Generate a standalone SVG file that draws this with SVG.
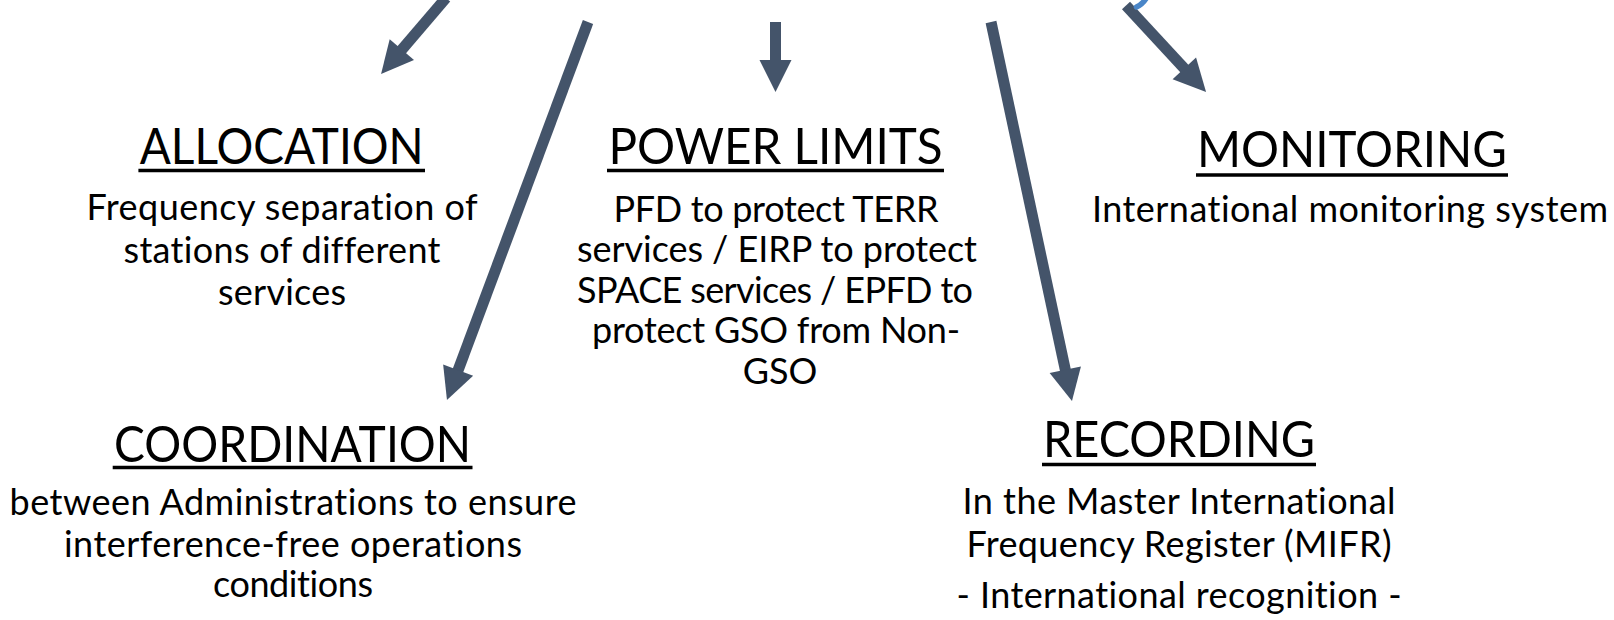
<svg xmlns="http://www.w3.org/2000/svg" width="1614" height="620" viewBox="0 0 1614 620">
  <style>
    text { font-variant-ligatures: none; font-feature-settings: "liga" 0, "dlig" 0; }
    .title { font-family: Lato, "Open Sans", sans-serif; font-size: 50px; fill: #000; text-anchor: middle; }
    .body { font-family: Lato, "Open Sans", sans-serif; font-size: 36px; fill: #000; text-anchor: middle; }
    .ul { stroke: #000; stroke-width: 3.5; }
    .arrow { stroke: #44546A; stroke-width: 11; fill: none; stroke-linecap: butt; marker-end: url(#head); }
  </style>
  <defs>
    <marker id="head" markerUnits="userSpaceOnUse" viewBox="0 -17 33 34" markerWidth="33" markerHeight="34" refX="0" refY="0" orient="auto" overflow="visible">
      <path d="M-1,-16 L31,0 L-1,16 Z" fill="#44546A"/>
    </marker>
  </defs>
  <rect width="1614" height="620" fill="#FFFFFF"/>

  <g id="connectors">
    <line class="arrow" x1="446" y1="-2" x2="401.2" y2="50.4"/>
    <line class="arrow" x1="588" y1="22" x2="457.8" y2="371.0"/>
    <line class="arrow" x1="775.5" y1="22" x2="775.5" y2="61"/>
    <line class="arrow" x1="991" y1="22" x2="1065.5" y2="370.7"/>
    <line class="arrow" x1="1126" y1="5.5" x2="1185.0" y2="69.2"/>
    <path d="M1147,-3 Q1143,4 1136.5,7" stroke="#4A86C8" stroke-width="5.5" fill="none" stroke-linecap="round"/>
  </g>

  <g id="allocation">
    <text class="title" x="281.7" y="163.5" textLength="284" lengthAdjust="spacingAndGlyphs">ALLOCATION</text>
    <line class="ul" x1="138.4" y1="170.5" x2="425" y2="170.5"/>
    <text class="body" x="282" y="220" textLength="391">Frequency separation of</text>
    <text class="body" x="282" y="262.5" textLength="317">stations of different</text>
    <text class="body" x="282" y="305" textLength="128">services</text>
  </g>

  <g id="power-limits">
    <text class="title" x="775.5" y="163.5" textLength="334" lengthAdjust="spacingAndGlyphs">POWER LIMITS</text>
    <line class="ul" x1="607" y1="170.5" x2="944" y2="170.5"/>
    <text class="body" x="776" y="221.7" textLength="325">PFD to protect TERR</text>
    <text class="body" x="777" y="262.3" textLength="400">services / EIRP to protect</text>
    <text class="body" x="775" y="302.5" textLength="396">SPACE services / EPFD to</text>
    <text class="body" x="776" y="343.3" textLength="368">protect GSO from Non-</text>
    <text class="body" x="780" y="384">GSO</text>
  </g>

  <g id="monitoring">
    <text class="title" x="1352" y="167" textLength="310" lengthAdjust="spacingAndGlyphs">MONITORING</text>
    <line class="ul" x1="1196" y1="175" x2="1508" y2="175"/>
    <text class="body" x="1350" y="222" textLength="516">International monitoring system</text>
  </g>

  <g id="coordination">
    <text class="title" x="292.6" y="461.5" textLength="357" lengthAdjust="spacingAndGlyphs">COORDINATION</text>
    <line class="ul" x1="112.7" y1="467.5" x2="472.5" y2="467.5"/>
    <text class="body" x="293" y="515" textLength="567">between Administrations to ensure</text>
    <text class="body" x="293" y="556.5" textLength="458">interference-free operations</text>
    <text class="body" x="293" y="597" textLength="160">conditions</text>
  </g>

  <g id="recording">
    <text class="title" x="1179" y="456.5" textLength="272" lengthAdjust="spacingAndGlyphs">RECORDING</text>
    <line class="ul" x1="1042" y1="464.5" x2="1316" y2="464.5"/>
    <text class="body" x="1179" y="513.5" textLength="433">In the Master International</text>
    <text class="body" x="1179" y="556.5" textLength="425">Frequency Register (MIFR)</text>
    <text class="body" x="1179" y="608" textLength="445">- International recognition -</text>
  </g>
</svg>
